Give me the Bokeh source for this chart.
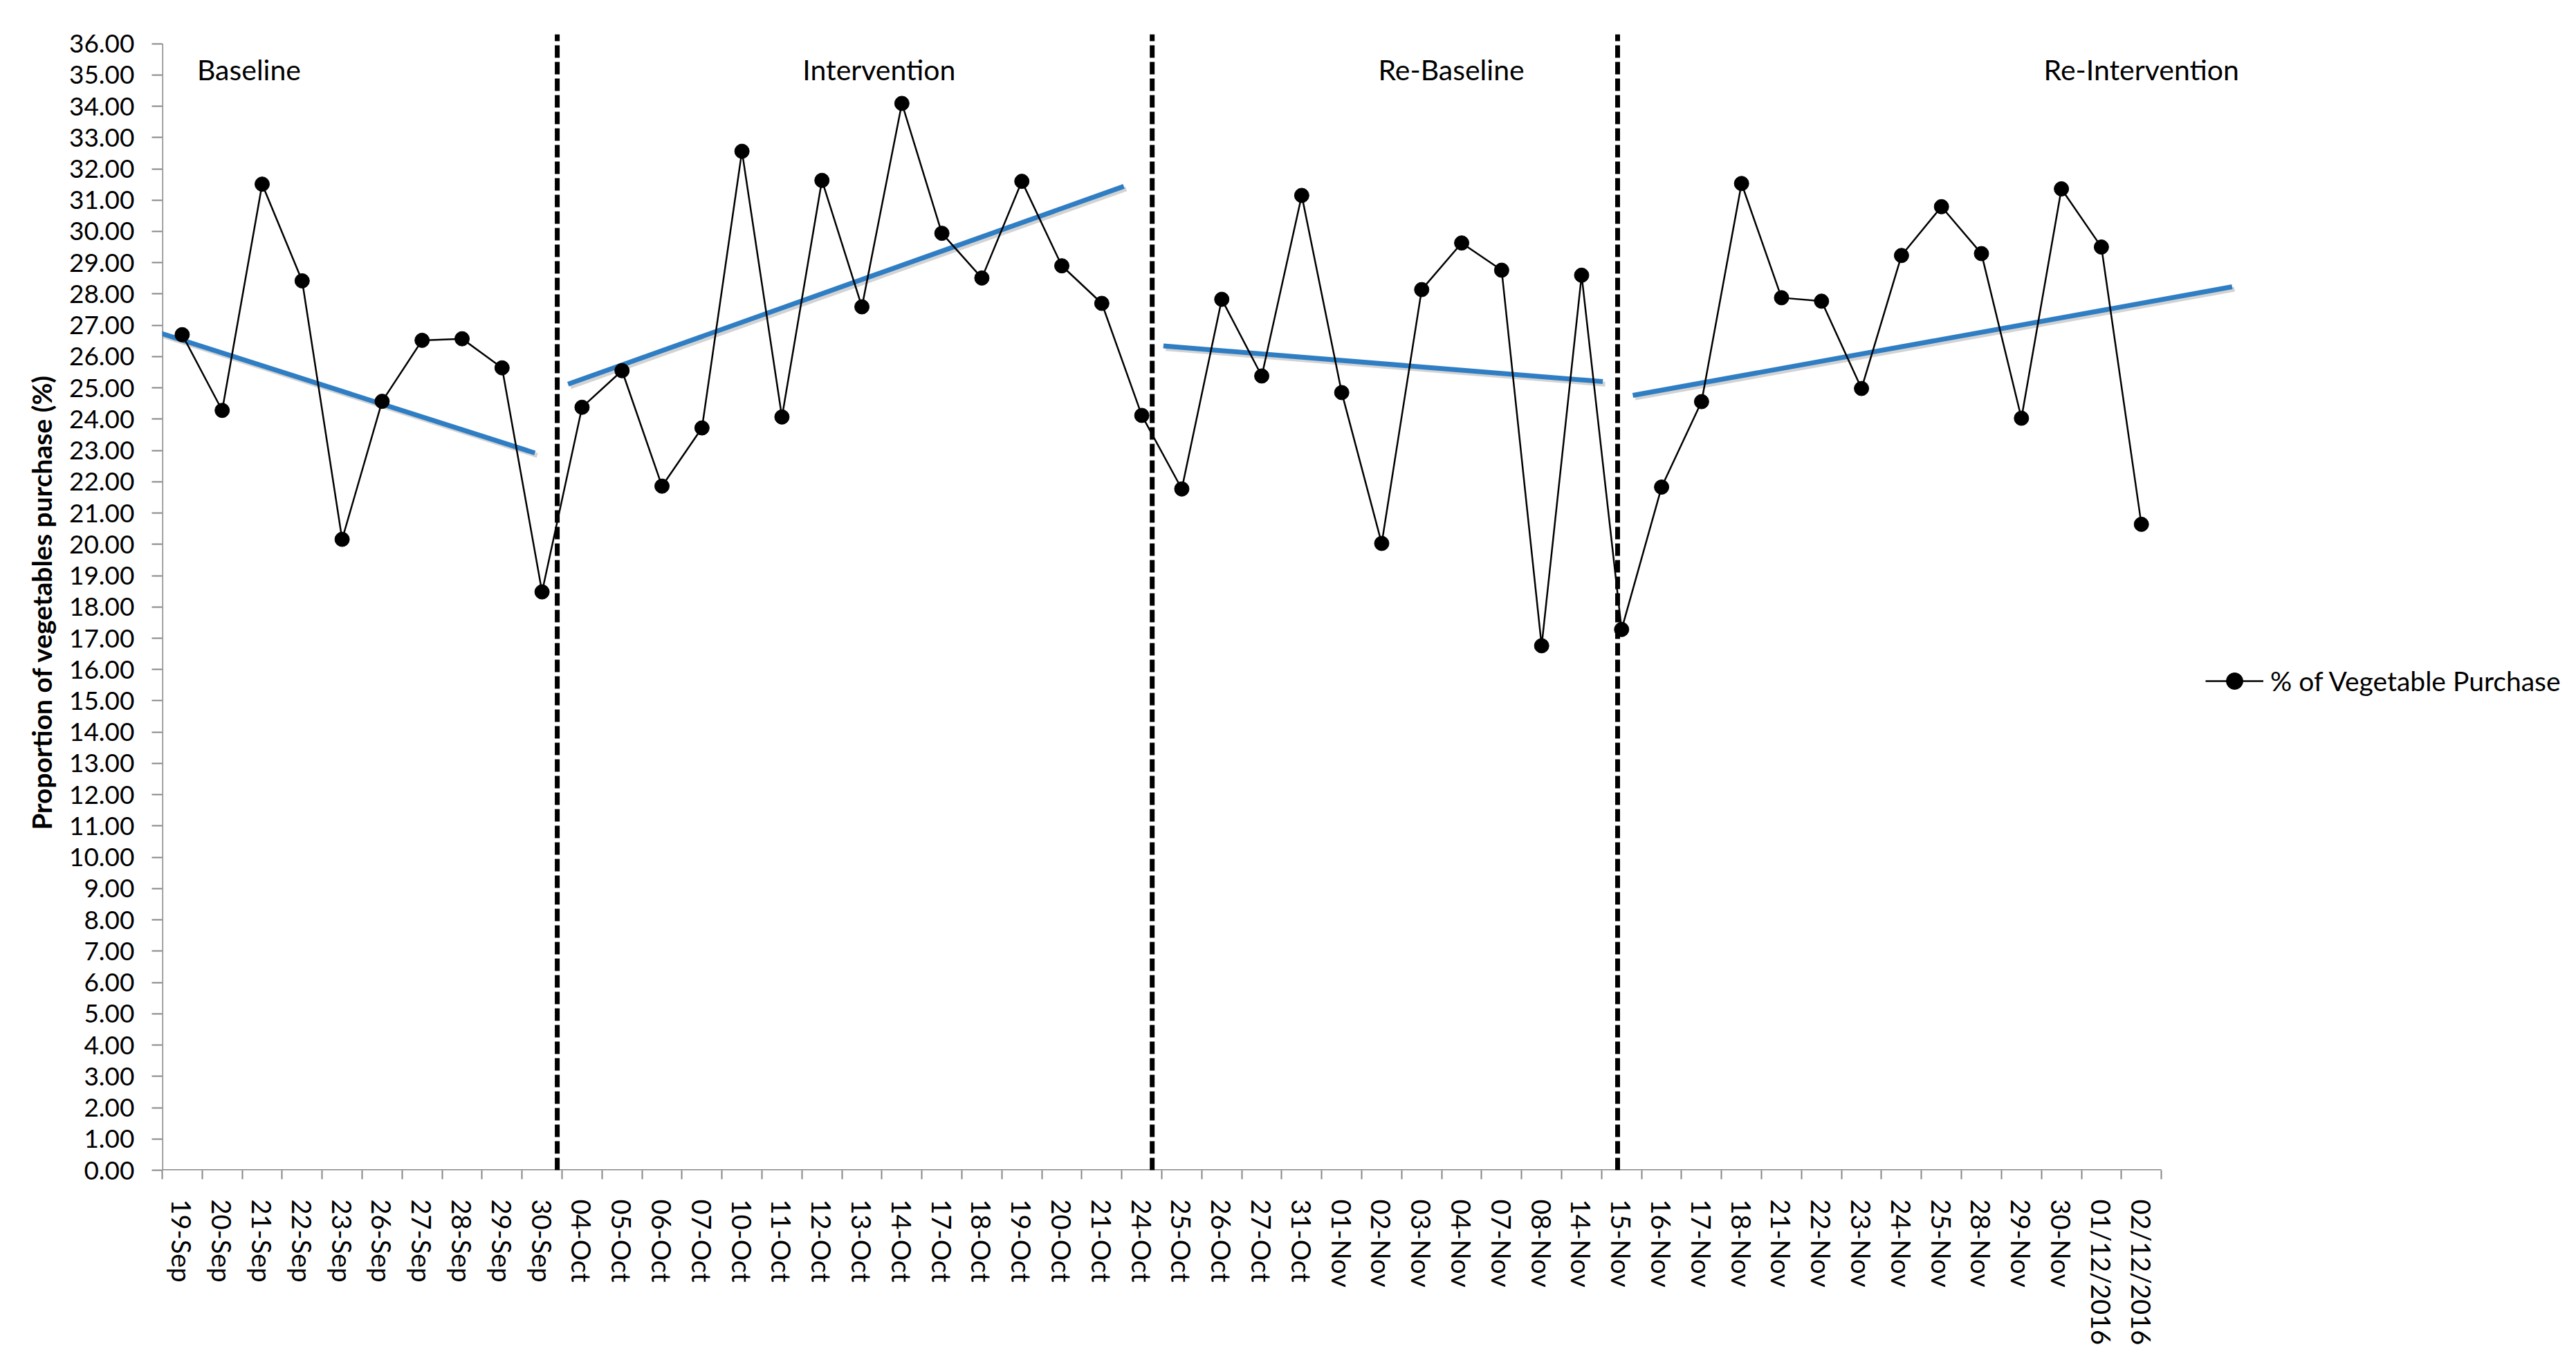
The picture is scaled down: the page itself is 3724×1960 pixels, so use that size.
import numpy as np
from bokeh.plotting import figure
from bokeh.models import Range1d, FixedTicker, NumeralTickFormatter, Legend, LegendItem
from bokeh.core.properties import value
from bokeh.embed import file_html
from bokeh.resources import INLINE

# market days on the x axis
dates = ["19-Sep", "20-Sep", "21-Sep", "22-Sep", "23-Sep", "26-Sep", "27-Sep", "28-Sep", "29-Sep", "30-Sep",
         "04-Oct", "05-Oct", "06-Oct", "07-Oct", "10-Oct", "11-Oct", "12-Oct", "13-Oct", "14-Oct", "17-Oct",
         "18-Oct", "19-Oct", "20-Oct", "21-Oct", "24-Oct", "25-Oct", "26-Oct", "27-Oct", "31-Oct", "01-Nov",
         "02-Nov", "03-Nov", "04-Nov", "07-Nov", "08-Nov", "14-Nov", "15-Nov", "16-Nov", "17-Nov", "18-Nov",
         "21-Nov", "22-Nov", "23-Nov", "24-Nov", "25-Nov", "28-Nov", "29-Nov", "30-Nov", "01/12/2016", "02/12/2016"]

# % of vegetable purchase
purchase = [26.70, 24.28, 31.51, 28.42, 20.16, 24.57, 26.52, 26.57, 25.64, 18.48,
            24.38, 25.55, 21.86, 23.72, 32.56, 24.07, 31.63, 27.59, 34.09, 29.94,
            28.51, 31.60, 28.90, 27.70, 24.12, 21.77, 27.83, 25.38, 31.15, 24.85,
            20.03, 28.14, 29.63, 28.76, 16.76, 28.60, 17.28, 21.83, 24.56, 31.53,
            27.88, 27.77, 24.98, 29.23, 30.79, 29.29, 24.03, 31.36, 29.50, 20.64]

# phases and their linear trend lines (x in category units)
phase_names = ["Baseline", "Intervention", "Re-Baseline", "Re-Intervention"]
phase_label_x = [2.17, 17.93, 32.24, 49.5]
phase_breaks = [9.88, 24.76, 36.40]
trend_x0 = [-0.51, 10.15, 25.04, 36.78]
trend_y0 = [26.94, 25.12, 26.34, 24.76]
trend_x1 = [9.32, 24.05, 36.03, 51.77]
trend_y1 = [22.92, 31.44, 25.20, 28.23]

FONT = "Lato"
AXIS_GRAY = "#868686"
BLUE = "#2F7EC4"

n = len(dates)
xpos = list(np.arange(n) + 0.5)

p = figure(frame_width=3482, frame_height=1642,
           min_border_left=234, min_border_right=0, min_border_top=49, min_border_bottom=257,
           x_range=Range1d(0, 60.24), y_range=Range1d(0, 36.3),
           output_backend="svg", toolbar_location=None)

p.xgrid.visible = False
p.ygrid.visible = False
p.outline_line_color = None

# axes drawn as plain segments so they stop where the chart stops
p.segment(x0=[0], y0=[0], x1=[0], y1=[36], line_color=AXIS_GRAY, line_width=3)
p.segment(x0=[0], y0=[0], x1=[n], y1=[0], line_color=AXIS_GRAY, line_width=3)

# phase change lines
p.segment(x0=phase_breaks, y0=[0] * 3, x1=phase_breaks, y1=[36.3] * 3,
          line_color="black", line_width=7, line_dash="18 6")

# trend lines with a soft shadow
p.segment(x0=[x + 0.06 for x in trend_x0], y0=[y - 0.08 for y in trend_y0],
          x1=[x + 0.06 for x in trend_x1], y1=[y - 0.08 for y in trend_y1],
          line_color="#808080", line_alpha=0.35, line_width=7)
p.segment(x0=trend_x0, y0=trend_y0, x1=trend_x1, y1=trend_y1,
          line_color=BLUE, line_width=7)

line_r = p.line(xpos, purchase, line_color="black", line_width=2.5)
pts_r = p.scatter(xpos, purchase, size=21, fill_color="black", line_color="black")

p.text(x=phase_label_x, y=[35.18] * 4, text=phase_names,
       text_font=value(FONT), text_font_size="41px", text_color="black",
       text_align="center", text_baseline="middle")

# x axis: labels at category centres, ticks between categories
p.xaxis.ticker = FixedTicker(ticks=xpos, minor_ticks=list(range(n + 1)))
p.xaxis.major_label_overrides = {float(x): d for x, d in zip(xpos, dates)}
p.xaxis.major_label_orientation = "vertical"
p.xaxis.axis_line_color = None
p.xaxis.major_tick_out = 0
p.xaxis.major_tick_in = 0
p.xaxis.minor_tick_out = 13
p.xaxis.minor_tick_in = 0
p.xaxis.minor_tick_line_color = AXIS_GRAY
p.xaxis.minor_tick_line_width = 2
p.xaxis.major_label_standoff = 29
p.xaxis.major_label_text_font = FONT
p.xaxis.major_label_text_font_size = "38px"
p.xaxis.major_label_text_color = "black"

# y axis
p.yaxis.ticker = FixedTicker(ticks=list(range(37)), minor_ticks=[])
p.yaxis.formatter = NumeralTickFormatter(format="0.00")
p.yaxis.axis_line_color = None
p.yaxis.major_tick_out = 15
p.yaxis.major_tick_in = 0
p.yaxis.major_tick_line_color = AXIS_GRAY
p.yaxis.major_tick_line_width = 2
p.yaxis.major_label_standoff = 25
p.yaxis.major_label_text_font = FONT
p.yaxis.major_label_text_font_size = "37px"
p.yaxis.major_label_text_color = "black"
p.yaxis.axis_label = "Proportion of vegetables purchase (%)"
p.yaxis.axis_label_text_font = FONT
p.yaxis.axis_label_text_font_style = "bold"
p.yaxis.axis_label_text_font_size = "39px"
p.yaxis.axis_label_text_color = "black"
p.yaxis.axis_label_standoff = 14

legend = Legend(items=[LegendItem(label="% of Vegetable Purchase", renderers=[line_r, pts_r])],
                location=(2954, 677), glyph_width=84, glyph_height=60, label_standoff=10,
                padding=0, margin=0, spacing=0,
                border_line_color=None, background_fill_alpha=0,
                label_text_font=FONT, label_text_font_size="39px", label_text_color="black")
p.add_layout(legend)

open("out.html", "w").write(file_html(p, INLINE))
